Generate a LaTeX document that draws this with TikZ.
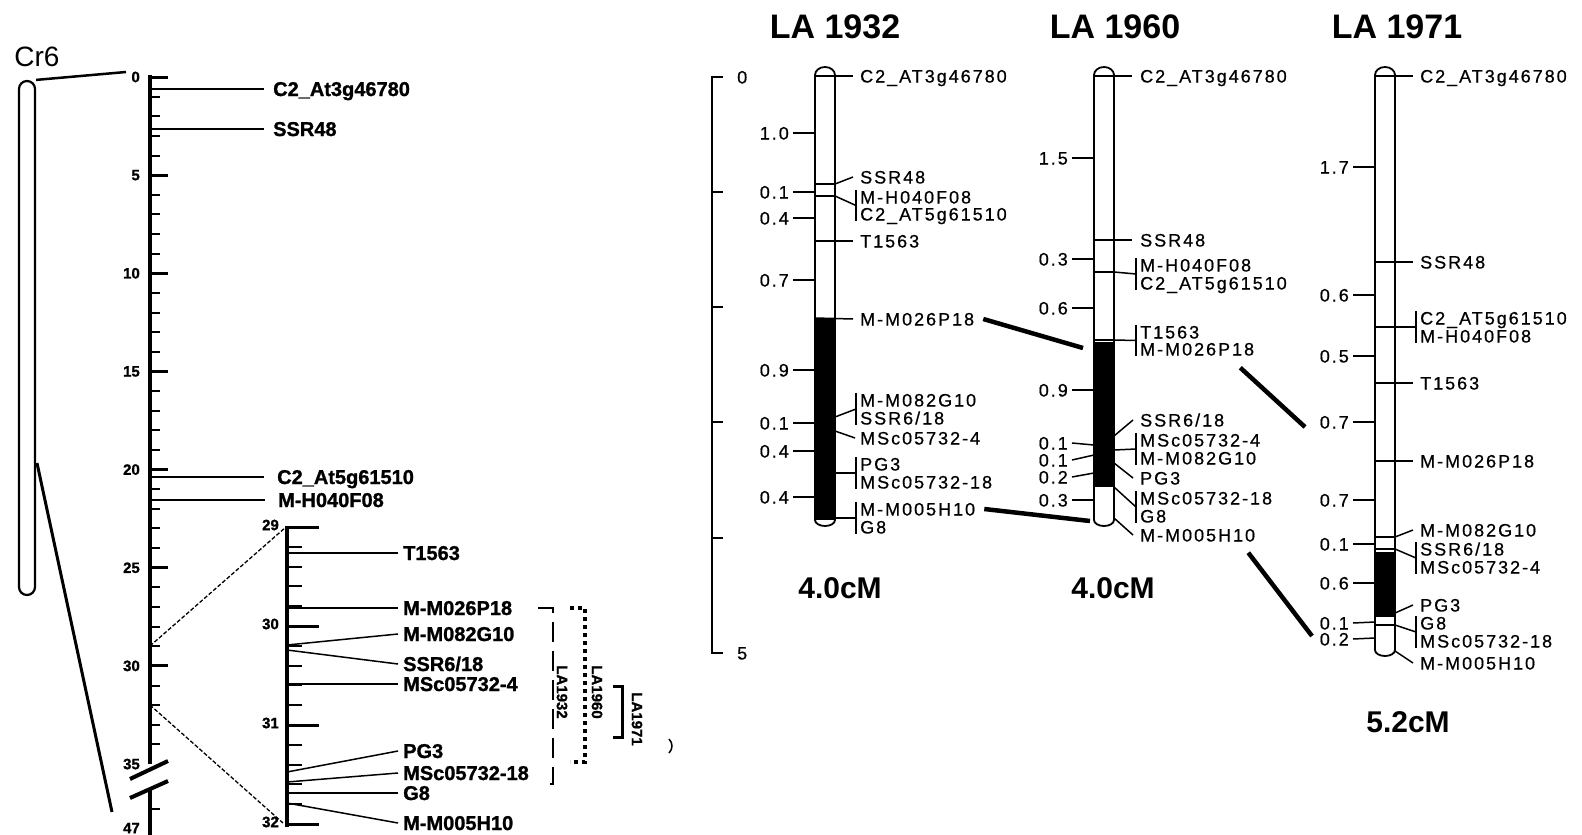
\documentclass[tikz,border=0pt]{standalone}
\usepackage{fontspec}
\setmainfont{Liberation Sans}
\newfontfamily\mapfamily[LetterSpace=11, FakeBold=0.6]{Liberation Sans}
\newfontfamily\heavyfamily[BoldFeatures={FakeBold=1.2}]{Liberation Sans}
\usetikzlibrary{calc}
\newcommand{\mapfont}{\mapfamily\fontsize{18}{18}\selectfont}
\newcommand{\leftfont}{\heavyfamily\bfseries\fontsize{20}{20}\selectfont}
\newcommand{\axfont}{\heavyfamily\bfseries\fontsize{15}{15}\selectfont}
\newcommand{\ttlfont}{\bfseries\fontsize{34}{34}\selectfont}
\newcommand{\cmfont}{\bfseries\fontsize{30}{30}\selectfont}
% outline of one linkage group: left x, bottom y
\newcommand{\lgbar}[2]{%
	\draw[barline] (#1,75) -- (#1,#2)
	arc[start angle=180, end angle=360, x radius=10pt, y radius=6pt]
	-- (#1+20,75)
	arc[start angle=0, end angle=180, x radius=10pt, y radius=8pt] -- cycle;}
\tikzset{
	mapnode/.style={%
			font=\mapfont,%
			inner sep=0,%
			text height=13pt,%
			text depth=0pt},%
	mklabel/.style={mapnode, anchor=west},%
	ivlabel/.style={mapnode, anchor=east},%
	leftlabel/.style={%
			font=\leftfont,%
			inner sep=0,%
			anchor=west,%
			text height=14pt,%
			text depth=0pt},%
	axnum/.style={font=\axfont, inner sep=0, anchor=east},%
	brlabel/.style={font=\axfont, inner sep=0, rotate=-90},%
	ttl/.style={font=\ttlfont},%
	cmlabel/.style={font=\cmfont},%
	thinline/.style={line width=1.5pt},%
	barline/.style={line width=1.8pt},%
	linkline/.style={line width=4.5pt},%
	axisline/.style={line width=4pt},%
	minortick/.style={line width=2pt},%
	majortick/.style={line width=3pt},%
	zoomline/.style={line width=1.3pt, dash pattern=on 4pt off 2pt},%
	chrombar/.style={%
			draw,%
			line width=2.2pt,%
			rounded corners=8pt,%
			inner sep=0},%
}

\begin{document}
\begin{tikzpicture}[x=1pt, y=-1pt]
	\useasboundingbox (0,0) rectangle (1582,835);

	% Cr6 with its map
	\node[font=\fontsize{28}{28}\selectfont, inner sep=0] (cr6) at (37,57) {Cr6};
	\node[chrombar, minimum width=16pt, minimum height=514pt] (cr6bar) at (27,338) {};
	\coordinate (cr6mid) at (37,463);
	\coordinate (cr6top) at (126,72);
	\coordinate (cr6end) at (112,812);
	\draw[line width=2.5pt] (cr6bar.north east) -- (cr6top);
	\draw[line width=3pt] (cr6mid) -- (cr6end);

	\draw[axisline] (150,75) -- (150,764);
	\draw[axisline] (150,790) -- (150,835);
	\foreach \v in {0,...,34}
	\draw[minortick] (150,{77+19.63*\v}) -- (160,{77+19.63*\v});
	\foreach \v in {0,5,...,30}
	\draw[majortick] (150,{77+19.63*\v}) -- (168,{77+19.63*\v});
	\foreach \v in {0,5,...,35}
	\node[axnum] (ax\v) at (140,{77+19.63*\v}) {\v};
	\node[axnum] (ax47) at (140,828) {47};
	\draw[minortick] (150,809) -- (160,809);
	\draw[line width=4pt] (130,779) -- (168,761);
	\draw[line width=4pt] (130,798) -- (168,781);

	\node[leftlabel] (l-c2at3) at (273,89) {C2\_At3g46780};
	\node[leftlabel] (l-ssr48) at (273,129) {SSR48};
	\node[leftlabel] (l-c2at5) at (277,477) {C2\_At5g61510};
	\node[leftlabel] (l-h040) at (278,500) {M-H040F08};
	\draw[line width=2.5pt] (150,89) -- ([xshift=-9pt]l-c2at3.west);
	\draw[line width=1.5pt] (150,129) -- ([xshift=-9pt]l-ssr48.west);
	\draw[line width=2.5pt] (150,477) -- ([xshift=-13pt]l-c2at5.west);
	\draw[line width=2.5pt] (150,500) -- ([xshift=-13pt]l-h040.west);

	% the 29-32 stretch, drawn larger
	\coordinate (m29) at (150,646);
	\coordinate (m32) at (150,705);
	\coordinate (e29) at (286,527);
	\coordinate (e32) at (283,823);
	\draw[zoomline] (m29) -- (e29);
	\draw[zoomline] (m32) -- (e32);
	\draw[axisline] (287,526) -- (287,827);
	\foreach \i in {0,...,15}
	\draw[minortick] (287,{527+19.8*\i}) -- (302,{527+19.8*\i});
	\foreach \v/\i in {29/0,30/5,31/10,32/15}{
		\draw[majortick] (287,{527+19.8*\i}) -- (319,{527+19.8*\i});
		\node[axnum] (zx\v) at (279,{525+19.8*\i}) {\v};
	}

	\node[leftlabel] (z-t1563) at (403,553) {T1563};
	\node[leftlabel] (z-m026) at (403,608) {M-M026P18};
	\node[leftlabel] (z-m082) at (403,634) {M-M082G10};
	\node[leftlabel] (z-ssr618) at (403,664) {SSR6/18};
	\node[leftlabel] (z-msc4) at (403,684) {MSc05732-4};
	\node[leftlabel] (z-pg3) at (403,751) {PG3};
	\node[leftlabel] (z-msc18) at (403,773) {MSc05732-18};
	\node[leftlabel] (z-g8) at (403,793) {G8};
	\node[leftlabel] (z-m005) at (403,823) {M-M005H10};
	\draw[line width=2.5pt] (287,553) -- ([xshift=-5pt]z-t1563.west);
	\draw[line width=2.5pt] (287,608) -- ([xshift=-5pt]z-m026.west);
	\draw[line width=1.5pt] (287,645) -- ([xshift=-5pt]z-m082.west);
	\draw[line width=1.5pt] (287,650) -- ([xshift=-5pt]z-ssr618.west);
	\draw[line width=2.5pt] (287,684) -- ([xshift=-5pt]z-msc4.west);
	\draw[line width=1.5pt] (287,772) -- ([xshift=-5pt]z-pg3.west);
	\draw[line width=1.5pt] (287,782) -- ([xshift=-5pt]z-msc18.west);
	\draw[line width=2.5pt] (287,793) -- ([xshift=-5pt]z-g8.west);
	\draw[line width=1.5pt] (287,803) -- ([xshift=-5pt]z-m005.west);

	% intervals of the three lines
	\draw[line width=2.5pt, dash pattern=on 20pt off 9pt] (538,608) -- (553,608) -- (553,784) -- (548,784);
	\node[brlabel] (r1932) at (562,692) {LA1932};
	\draw[line width=4pt, dash pattern=on 4pt off 4pt] (570,608) -- (585,608) -- (585,762) -- (570,762);
	\node[brlabel] (r1960) at (597,692) {LA1960};
	\draw[line width=3pt] (613,686) -- (622,686) -- (622,737) -- (613,737);
	\node[brlabel] (r1971) at (637,719) {LA1971};
	\draw[line width=1.5pt] (669,739) .. controls (673,743) and (673,749) .. (669,753);

	% scale of the linkage maps
	\draw[thinline] (723,77) -- (712,77) -- (712,653) -- (723,653);
	\foreach \y in {192,307,422,538}
	\draw[thinline] (712,\y) -- (723,\y);
	\node[mklabel] (sc0) at (737,77) {0};
	\node[mklabel] (sc5) at (737,653) {5};

	% LA 1932
	\node[ttl] (t1932) at (835,27) {LA 1932};
	\fill (815,318) rectangle (835,520);
	\lgbar{815}{520}
	\foreach \y in {184,196}
	\draw[thinline] (815,\y) -- (835,\y);
	\foreach \y/\b/\lab [count=\i] in {133/133/1.0,192/192/0.1,218/218/0.4,280/280/0.7,370/370/0.9,423/423/0.1,451/451/0.4,497/497/0.4}{
		\node[ivlabel] (a-iv\i) at (789,\y) {\lab};
		\draw[thinline] ([xshift=4pt]a-iv\i.east) -- (815,\b);
	}
	\node[mklabel] (a-c2at3) at (860,76) {C2\_AT3g46780};
	\node[mklabel] (a-ssr48) at (860,177) {SSR48};
	\node[mklabel] (a-h040) at (860,197) {M-H040F08};
	\node[mklabel] (a-c2at5) at (860,214) {C2\_AT5g61510};
	\node[mklabel] (a-t1563) at (860,241) {T1563};
	\node[mklabel] (a-m026) at (860,319) {M-M026P18};
	\node[mklabel] (a-m082) at (860,400) {M-M082G10};
	\node[mklabel] (a-ssr618) at (860,418) {SSR6/18};
	\node[mklabel] (a-msc4) at (860,438) {MSc05732-4};
	\node[mklabel] (a-pg3) at (860,464) {PG3};
	\node[mklabel] (a-msc18) at (860,482) {MSc05732-18};
	\node[mklabel] (a-m005) at (860,509) {M-M005H10};
	\node[mklabel] (a-g8) at (860,527) {G8};
	\draw[thinline] (815,76) -- ([xshift=-7pt]a-c2at3.west);
	\draw[thinline] (835,184) -- ([xshift=-7pt]a-ssr48.west);
	\draw[thinline] (835,196) -- ($(a-h040.west)!0.5!(a-c2at5.west)+(-4,0)$);
	\draw[thinline] ([xshift=-4pt]a-h040.north west) -- ([xshift=-4pt]a-c2at5.south west);
	\draw[thinline] (815,241) -- ([xshift=-7pt]a-t1563.west);
	\draw[thinline] (815,318) -- ([xshift=-7pt]a-m026.west);
	\draw[thinline] (835,417) -- ($(a-m082.west)!0.5!(a-ssr618.west)+(-4,0)$);
	\draw[thinline] ([xshift=-4pt]a-m082.north west) -- ([xshift=-4pt]a-ssr618.south west);
	\draw[thinline] (835,431) -- ([xshift=-5pt]a-msc4.west);
	\draw[thinline] (835,473) -- ($(a-pg3.west)!0.5!(a-msc18.west)+(-4,0)$);
	\draw[thinline] ([xshift=-4pt]a-pg3.north west) -- ([xshift=-4pt]a-msc18.south west);
	\draw[thinline] (835,518) -- ($(a-m005.west)!0.5!(a-g8.west)+(-4,0)$);
	\draw[thinline] ([xshift=-4pt]a-m005.north west) -- ([xshift=-4pt]a-g8.south west);
	\node[cmlabel] (cm1932) at (840,588) {4.0cM};

	% LA 1960
	\node[ttl] (t1960) at (1115,27) {LA 1960};
	\fill (1094,342) rectangle (1114,487);
	\lgbar{1094}{520}
	\foreach \y in {272,340}
	\draw[thinline] (1094,\y) -- (1114,\y);
	\foreach \y/\b/\lab [count=\i] in {158/158/1.5,259/259/0.3,308/308/0.6,390/390/0.9,443/445/0.1,460/455/0.1,477/473/0.2,500/500/0.3}{
		\node[ivlabel] (b-iv\i) at (1068,\y) {\lab};
		\draw[thinline] ([xshift=4pt]b-iv\i.east) -- (1094,\b);
	}
	\node[mklabel] (b-c2at3) at (1140,76) {C2\_AT3g46780};
	\node[mklabel] (b-ssr48) at (1140,240) {SSR48};
	\node[mklabel] (b-h040) at (1140,265) {M-H040F08};
	\node[mklabel] (b-c2at5) at (1140,283) {C2\_AT5g61510};
	\node[mklabel] (b-t1563) at (1140,332) {T1563};
	\node[mklabel] (b-m026) at (1140,349) {M-M026P18};
	\node[mklabel] (b-ssr618) at (1140,420) {SSR6/18};
	\node[mklabel] (b-msc4) at (1140,440) {MSc05732-4};
	\node[mklabel] (b-m082) at (1140,458) {M-M082G10};
	\node[mklabel] (b-pg3) at (1140,478) {PG3};
	\node[mklabel] (b-msc18) at (1140,498) {MSc05732-18};
	\node[mklabel] (b-g8) at (1140,516) {G8};
	\node[mklabel] (b-m005) at (1140,535) {M-M005H10};
	\draw[thinline] (1094,76) -- ([xshift=-8pt]b-c2at3.west);
	\draw[thinline] (1094,240) -- ([xshift=-8pt]b-ssr48.west);
	\draw[thinline] (1114,272) -- ($(b-h040.west)!0.5!(b-c2at5.west)+(-4,0)$);
	\draw[thinline] ([xshift=-4pt]b-h040.north west) -- ([xshift=-4pt]b-c2at5.south west);
	\draw[thinline] (1114,340) -- ($(b-t1563.west)!0.5!(b-m026.west)+(-4,0)$);
	\draw[thinline] ([xshift=-4pt]b-t1563.north west) -- ([xshift=-4pt]b-m026.south west);
	\draw[thinline] (1114,436) -- ([xshift=-7pt]b-ssr618.west);
	\draw[thinline] (1114,450) -- ($(b-msc4.west)!0.5!(b-m082.west)+(-4,0)$);
	\draw[thinline] ([xshift=-4pt]b-msc4.north west) -- ([xshift=-4pt]b-m082.south west);
	\draw[thinline] (1114,463) -- ([xshift=-7pt]b-pg3.west);
	\draw[thinline] (1114,487) -- ($(b-msc18.west)!0.5!(b-g8.west)+(-4,0)$);
	\draw[thinline] ([xshift=-4pt]b-msc18.north west) -- ([xshift=-4pt]b-g8.south west);
	\draw[thinline] (1114,518) -- ([xshift=-7pt]b-m005.west);
	\node[cmlabel] (cm1960) at (1113,588) {4.0cM};

	% LA 1971
	\node[ttl] (t1971) at (1397,27) {LA 1971};
	\fill (1375,552) rectangle (1395,617);
	\lgbar{1375}{650}
	\foreach \y in {327,537,549,625}
	\draw[thinline] (1375,\y) -- (1395,\y);
	\foreach \y/\b/\lab [count=\i] in {167/167/1.7,295/295/0.6,356/356/0.5,422/422/0.7,500/500/0.7,544/544/0.1,583/583/0.6,623/622/0.1,639/638/0.2}{
		\node[ivlabel] (c-iv\i) at (1349,\y) {\lab};
		\draw[thinline] ([xshift=4pt]c-iv\i.east) -- (1375,\b);
	}
	\node[mklabel] (c-c2at3) at (1420,76) {C2\_AT3g46780};
	\node[mklabel] (c-ssr48) at (1420,262) {SSR48};
	\node[mklabel] (c-c2at5) at (1420,318) {C2\_AT5g61510};
	\node[mklabel] (c-h040) at (1420,336) {M-H040F08};
	\node[mklabel] (c-t1563) at (1420,383) {T1563};
	\node[mklabel] (c-m026) at (1420,461) {M-M026P18};
	\node[mklabel] (c-m082) at (1420,530) {M-M082G10};
	\node[mklabel] (c-ssr618) at (1420,549) {SSR6/18};
	\node[mklabel] (c-msc4) at (1420,567) {MSc05732-4};
	\node[mklabel] (c-pg3) at (1420,605) {PG3};
	\node[mklabel] (c-g8) at (1420,623) {G8};
	\node[mklabel] (c-msc18) at (1420,641) {MSc05732-18};
	\node[mklabel] (c-m005) at (1420,663) {M-M005H10};
	\draw[thinline] (1375,76) -- ([xshift=-7pt]c-c2at3.west);
	\draw[thinline] (1375,262) -- ([xshift=-7pt]c-ssr48.west);
	\draw[thinline] (1395,327) -- ($(c-c2at5.west)!0.5!(c-h040.west)+(-4,0)$);
	\draw[thinline] ([xshift=-4pt]c-c2at5.north west) -- ([xshift=-4pt]c-h040.south west);
	\draw[thinline] (1375,383) -- ([xshift=-7pt]c-t1563.west);
	\draw[thinline] (1375,461) -- ([xshift=-7pt]c-m026.west);
	\draw[thinline] (1395,537) -- ([xshift=-7pt]c-m082.west);
	\draw[thinline] (1395,549) -- ($(c-ssr618.west)!0.5!(c-msc4.west)+(-4,0)$);
	\draw[thinline] ([xshift=-4pt]c-ssr618.north west) -- ([xshift=-4pt]c-msc4.south west);
	\draw[thinline] (1395,613) -- ([xshift=-7pt]c-pg3.west);
	\draw[thinline] (1395,625) -- ($(c-g8.west)!0.5!(c-msc18.west)+(-4,0)$);
	\draw[thinline] ([xshift=-4pt]c-g8.north west) -- ([xshift=-4pt]c-msc18.south west);
	\draw[thinline] (1395,651) -- ([xshift=-7pt]c-m005.west);
	\node[cmlabel] (cm1971) at (1408,722) {5.2cM};

	% links between the lines
	\coordinate (b-in1) at (1083,348);
	\coordinate (b-in2) at (1090,521);
	\coordinate (c-in1) at (1305,427);
	\coordinate (c-in2) at (1312,636);
	\draw[linkline] ([xshift=9pt]a-m026.east) -- (b-in1);
	\draw[linkline] ([xshift=9pt]a-m005.east) -- (b-in2);
	\draw[linkline] ([xshift=-14pt,yshift=-12pt]b-m026.south east) -- (c-in1);
	\draw[linkline] ([xshift=-7pt,yshift=-11pt]b-m005.south east) -- (c-in2);
\end{tikzpicture}
\end{document}
